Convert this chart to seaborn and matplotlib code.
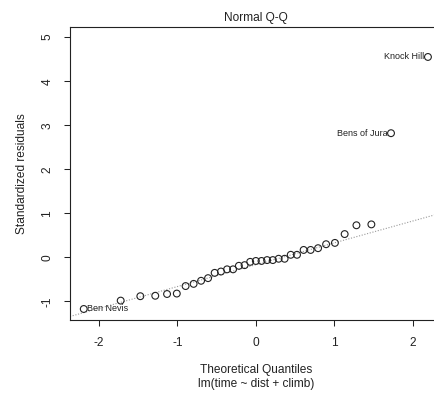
import numpy as np
import pandas as pd
import matplotlib
matplotlib.use("Agg")
import matplotlib.pyplot as plt
import seaborn as sns

# ---- data ----
theoretical_quantiles = [-2.19, -1.72, -1.47, -1.28, -1.13, -1.006, -0.894, -0.792,
                         -0.697, -0.608, -0.524, -0.444, -0.366, -0.290, -0.216,
                         -0.143, -0.072, 0.0, 0.072, 0.143, 0.216, 0.290, 0.366,
                         0.444, 0.524, 0.608, 0.697, 0.792, 0.894, 1.006, 1.13,
                         1.28, 1.47, 1.72, 2.19]
std_residuals = [-1.17, -0.98, -0.88, -0.87, -0.83, -0.82, -0.65, -0.60, -0.53,
                 -0.47, -0.35, -0.32, -0.27, -0.27, -0.19, -0.175, -0.10, -0.08,
                 -0.08, -0.06, -0.06, -0.03, -0.03, 0.06, 0.06, 0.17, 0.17, 0.21,
                 0.30, 0.33, 0.53, 0.73, 0.75, 2.82, 4.55]
labelled_points = ["Ben Nevis", "Bens of Jura", "Knock Hill"]
labelled_index = [0, 33, 34]
x_ticks = [-2, -1, 0, 1, 2]
y_ticks = [-1, 0, 1, 2, 3, 4, 5]

df = pd.DataFrame({"q": theoretical_quantiles, "r": std_residuals})

sns.set_style("ticks")
plt.rcParams["font.family"] = ["Liberation Sans", "DejaVu Sans"]

W, H = 435, 396
fig = plt.figure(figsize=(W / 100, H / 100), dpi=100)
left, right, top, bottom = 70, 441.7, 27, 320
ax = fig.add_axes([left / W, 1 - bottom / H, (right - left) / W, (bottom - top) / H])

# qq reference line through the quartiles
q1, q3 = np.quantile(df["r"], [0.25, 0.75])
zq = 0.6744898
slope = (q3 - q1) / (2 * zq)
intercept = q1 + slope * zq
ax.axline((0, intercept), slope=slope, ls=(0, (1, 1.5)), color="#9a9a9a", lw=0.8, zorder=1)

sns.scatterplot(data=df, x="q", y="r", ax=ax, marker="o", s=24,
                facecolors="none", edgecolor="#222222", linewidth=0.8, zorder=2)

for name, i in zip(labelled_points, labelled_index):
    x, y = theoretical_quantiles[i], std_residuals[i]
    if x < 0:
        ax.annotate(name, (x, y), xytext=(2.5, 0), textcoords="offset points",
                    ha="left", va="center", fontsize=6.5, color="#222222")
    else:
        ax.annotate(name, (x, y), xytext=(-2.5, 0), textcoords="offset points",
                    ha="right", va="center", fontsize=6.5, color="#222222")

ax.set_xlim(-2.365, 2.365)
ax.set_ylim(-1.42, 5.23)
ax.set_xticks(x_ticks)
ax.set_yticks(y_ticks)
ax.set_xticklabels([str(t) for t in x_ticks], fontsize=8.6, color="#222222")
ax.set_yticklabels([str(t) for t in y_ticks], fontsize=8.6, color="#222222",
                   rotation=90, va="center")
ax.tick_params(axis="both", direction="out", length=4.5, width=0.75,
               color="#222222", pad=7.5)
for s in ax.spines.values():
    s.set_linewidth(0.8)
    s.set_color("#222222")
ax.set_xlabel("")
ax.set_ylabel("")

cx = (left + right) / 2 / W
fig.text(cx, 1 - 21 / H, "Normal Q-Q", ha="center", va="baseline",
         fontsize=8.6, color="#222222")
fig.text(cx, 1 - 370 / H, "Theoretical Quantiles", ha="center", va="center",
         fontsize=8.6, color="#222222")
fig.text(cx, 1 - 384 / H, "lm(time ~ dist + climb)", ha="center", va="center",
         fontsize=8.6, color="#222222")
fig.text(22 / W, 1 - ((top + bottom) / 2) / H, "Standardized residuals",
         ha="center", va="center", rotation=90, fontsize=8.6, color="#222222")

fig.savefig("out.png", dpi=100)
